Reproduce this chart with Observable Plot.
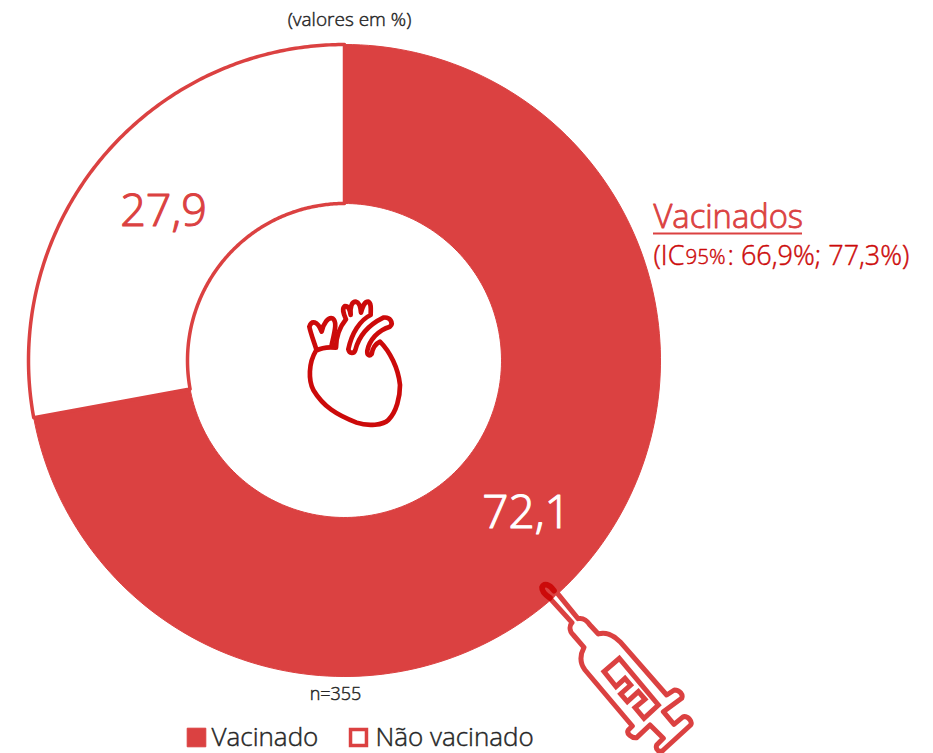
<!DOCTYPE html>
<html><head><meta charset="utf-8">
<script src="https://cdn.jsdelivr.net/npm/d3@7"></script>
<script src="https://cdn.jsdelivr.net/npm/@observablehq/plot@0.6"></script>
<style>html,body{margin:0;padding:0;background:#fff;overflow:hidden}svg{display:block}</style>
</head><body><div id="chart"></div>
<script>
const categories = ["Vacinado", "Não vacinado"];
const values = [72.1, 27.9];
const valueLabels = ["72,1", "27,9"];
const title = "Vacinados";
const ciText = ": 66,9%; 77,3%)";
const unitNote = "(valores em %)";
const sampleNote = "n=355";

const RED = "#DB4141", DARK = "#CC0A0A", INK = "#262626";
const FONT = "'Open Sans', sans-serif";
const W = 933, H = 753, CX = 344, CY = 360, R0 = 157, R1 = 316;

const angle = d3.scaleLinear().domain([0, 100]).range([0, 2 * Math.PI]);
function ring(from, to, name) {
  const a = d3.range(0, 181).map(i => angle(from + (to - from) * i / 180));
  const outer = a.map(t => ({name, x: CX + R1 * Math.sin(t), y: CY - R1 * Math.cos(t)}));
  const inner = a.slice().reverse().map(t => ({name, x: CX + R0 * Math.sin(t), y: CY - R0 * Math.cos(t)}));
  return [...outer, ...inner, outer[0]];
}
let acc = 0;
const slices = categories.map((c, i) => { const p = ring(acc, acc + values[i], c); acc += values[i]; return p; });

const txt = (s, x, y, size, fill, anchor = "start", bold = 0.45) =>
  Plot.text([s], {x: () => x, y: () => y, text: d => d, fontSize: size, fill, stroke: fill, strokeWidth: bold, textAnchor: anchor, fontWeight: 300, fontFamily: FONT, lineAnchor: "middle"});

function icon(tx, ty, inner) {
  return () => {
    const g = document.createElementNS("http://www.w3.org/2000/svg", "g");
    g.setAttribute("transform", `translate(${tx},${ty}) scale(${1/3})`);
    g.innerHTML = inner;
    return g;
  };
}

const heart = `<g fill="none" stroke="${DARK}" stroke-width="14" stroke-linejoin="round" stroke-linecap="round">
<path d="M108 212C85 250 85 300 100 330C130 380 170 405 230 428C265 440 310 435 325 420C350 395 360 350 360 315C355 265 330 215 300 185C285 192 278 205 275 222C268 230 260 225 262 212C268 180 295 150 330 140C342 128 330 110 310 113C255 140 235 175 226 210C222 222 208 222 205 208C215 160 240 120 272 105C272 90 275 70 265 65C252 65 248 80 243 98C242 85 240 68 228 65C215 65 210 80 212 105C210 92 208 78 195 78C185 85 190 100 198 118C180 140 168 165 168 203C145 200 125 203 108 212"/>
<path d="M108 205C100 180 92 160 88 140C95 120 112 122 125 155C130 130 145 110 158 115C172 125 165 150 155 195"/></g>`;

const syringe = `<path d="M108 65L174 146C187 143 200 150 210 165L235 192C255 185 280 195 300 215L440 375L463 360C480 360 490 375 485 385L430 425L462 463L490 440C505 438 518 455 512 465L430 540C420 550 405 540 410 525L430 505L390 465L350 503C335 505 318 490 325 480L337 468L195 300C180 280 180 255 192 232L160 195C145 180 150 165 156 158L90 85Z" fill="#fff" stroke="${RED}" stroke-width="15" stroke-linejoin="round"/>
<path d="M298 265L415 405L372 445L345 413L375 388L355 365L322 395L302 372L332 345L315 325L288 350L252 305Z" fill="none" stroke="${RED}" stroke-width="15" stroke-linejoin="miter"/>
<path d="M102 62C88 42 72 38 66 52C65 65 76 75 90 84" fill="none" stroke="${DARK}" stroke-width="17" stroke-linecap="round"/>`;

const chart = Plot.plot({
  width: W, height: H, margin: 0,
  x: {domain: [0, W], range: [0, W], axis: null},
  y: {domain: [0, H], range: [0, H], axis: null},
  style: {background: "#fff"},
  marks: [
    Plot.line(slices[0], {x: "x", y: "y", fill: RED, stroke: RED, strokeWidth: 1, curve: "linear"}),
    Plot.line(slices[1], {x: "x", y: "y", fill: "#fff", stroke: RED, strokeWidth: 3.5, curve: "linear"}),
    txt(valueLabels[1], 163, 211, 45, RED, "middle", 1.1),
    txt(valueLabels[0], 526, 513, 46, "#fff", "middle", 1.1),
    txt(unitNote, 349, 19, 19, INK, "middle"),
    txt(sampleNote, 335, 694, 18, INK, "middle"),
    txt(title, 653, 217, 32.7, RED, "start", 0.8),
    Plot.ruleY([233], {x1: 653, x2: 802, stroke: RED, strokeWidth: 2}),
    txt("(IC", 653, 256, 27, DARK),
    txt("95%", 685, 257, 20.5, DARK),
    txt(ciText, 727, 256, 27, DARK),
    Plot.dot([categories[0]], {x: () => 196, y: () => 737, symbol: "square", r: 10.5, fill: RED, stroke: RED, strokeWidth: 1}),
    Plot.dot([categories[1]], {x: () => 358, y: () => 737, symbol: "square", r: 9, fill: "#fff", stroke: RED, strokeWidth: 3.5}),
    txt(categories[0], 211, 737, 26, INK),
    txt(categories[1], 375, 737, 26, INK),
    icon(280, 280, heart),
    icon(520, 570, syringe)
  ]
});
document.getElementById("chart").append(chart);
</script></body></html>
